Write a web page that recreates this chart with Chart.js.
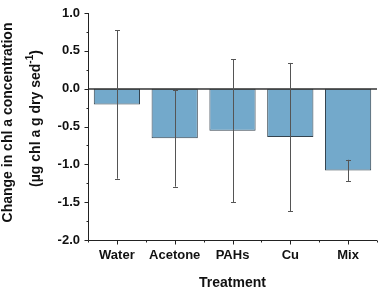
<!DOCTYPE html>
<html>
<head>
<meta charset="utf-8">
<script src="https://cdn.jsdelivr.net/npm/chart.js@4"></script>
<style>
html,body{margin:0;padding:0;background:#fff;}
#wrap{width:379px;height:289px;position:relative;}
</style>
</head>
<body>
<div id="wrap"><canvas id="c" width="379" height="289"></canvas></div>
<script>
const categories = ["Water", "Acetone", "PAHs", "Cu", "Mix"];
const means = [-0.21, -0.655, -0.555, -0.64, -1.08];
const errors = [0.98, 0.64, 0.945, 0.98, 0.14];
const yTicks = [1.0, 0.5, 0.0, -0.5, -1.0, -1.5, -2.0];
const xTitle = "Treatment";
const yTitleLine1 = "Change in chl a concentration";
const yTitleLine2 = "(µg chl a g dry sed";
const yTitleSup = "-1";
const yTitleEnd = ")";

const FONT = "'Liberation Sans', Arial, sans-serif";
const AXIS = "#222";

const decor = {
  id: 'decor',
  afterDatasetsDraw(chart) {
    const ctx = chart.ctx;
    const x = chart.scales.x, y = chart.scales.y;
    const ca = chart.chartArea;
    ctx.save();
    ctx.strokeStyle = '#333';
    ctx.lineWidth = 1.5;
    const y0 = Math.round(y.getPixelForValue(0));
    ctx.beginPath(); ctx.moveTo(ca.left, y0); ctx.lineTo(ca.right, y0); ctx.stroke();
    ctx.strokeStyle = '#555';
    ctx.lineWidth = 1;
    const meta = chart.getDatasetMeta(0);
    meta.data.forEach((bar, i) => {
      const cx = Math.round(bar.x) + 0.5;
      const yt = y.getPixelForValue(means[i] + errors[i]);
      const yb = y.getPixelForValue(means[i] - errors[i]);
      ctx.beginPath();
      ctx.moveTo(cx, yt); ctx.lineTo(cx, yb);
      ctx.moveTo(cx - 2.5, Math.round(yt) + 0.5); ctx.lineTo(cx + 2.5, Math.round(yt) + 0.5);
      ctx.moveTo(cx - 2.5, Math.round(yb) + 0.5); ctx.lineTo(cx + 2.5, Math.round(yb) + 0.5);
      ctx.stroke();
    });
    ctx.strokeStyle = AXIS;
    ctx.lineWidth = 1;
    const lx = Math.round(ca.left) + 0.5;
    const by = Math.round(ca.bottom) + 0.5;
    ctx.beginPath();
    ctx.moveTo(lx, ca.top); ctx.lineTo(lx, by);
    ctx.moveTo(lx, by); ctx.lineTo(ca.right, by);
    for (let v = -2.0; v <= 1.0001; v += 0.25) {
      const py = Math.round(y.getPixelForValue(v)) + 0.5;
      const major = Math.abs(v * 2 - Math.round(v * 2)) < 1e-6;
      ctx.moveTo(lx, py); ctx.lineTo(lx - (major ? 4 : 2), py);
    }
    const n = categories.length;
    for (let i = 0; i < n; i++) {
      const px = Math.round(x.getPixelForValue(i)) + 0.5;
      ctx.moveTo(px, by); ctx.lineTo(px, by + 4);
    }
    for (let i = 0; i <= n; i++) {
      const px = Math.round(x.getPixelForValue(i - 0.5)) + 0.5;
      ctx.moveTo(px, by); ctx.lineTo(px, by + 2);
    }
    ctx.stroke();
    ctx.fillStyle = '#111';
    const cy = (ca.top + ca.bottom) / 2;
    ctx.translate(0, cy);
    ctx.rotate(-Math.PI / 2);
    ctx.textBaseline = 'middle';
    ctx.textAlign = 'left';
    const fMain = "bold 14px " + FONT, fSup = "bold 10px " + FONT;
    ctx.font = fMain;
    const w1 = ctx.measureText(yTitleLine1).width;
    ctx.fillText(yTitleLine1, -w1 / 2 + 4, 8);
    ctx.font = fMain; const a = ctx.measureText(yTitleLine2).width;
    ctx.font = fSup; const b = ctx.measureText(yTitleSup).width;
    ctx.font = fMain; const c = ctx.measureText(yTitleEnd).width;
    let sx = -(a + b + c) / 2 + 8;
    const ly = 36;
    ctx.font = fMain; ctx.fillText(yTitleLine2, sx, ly); sx += a;
    ctx.font = fSup; ctx.fillText(yTitleSup, sx, ly - 6); sx += b;
    ctx.font = fMain; ctx.fillText(yTitleEnd, sx, ly);
    ctx.restore();
  }
};

new Chart(document.getElementById('c'), {
  type: 'bar',
  data: {
    labels: categories,
    datasets: [{
      data: means,
      backgroundColor: '#73a9cb',
      borderColor: '#34434e',
      borderWidth: 1,
      borderSkipped: false,
      barPercentage: 0.8,
      categoryPercentage: 1.0
    }]
  },
  options: {
    responsive: false,
    animation: false,
    devicePixelRatio: 1,
    layout: { padding: { top: 13, right: 2, left: 0, bottom: 0 } },
    plugins: { legend: { display: false }, tooltip: { enabled: false } },
    scales: {
      x: {
        border: { display: false },
        grid: { display: false, drawTicks: false },
        ticks: { color: '#111', font: { family: FONT, size: 13, weight: 'bold' }, padding: 8, maxRotation: 0 },
        title: { display: true, text: xTitle, color: '#111', font: { family: FONT, size: 14, weight: 'bold' }, padding: { top: 13, bottom: -3 } },
        afterFit(s) { s.height = 49; s.paddingLeft = 0; s.paddingRight = 0; }
      },
      y: {
        min: -2.0, max: 1.0,
        border: { display: false },
        grid: { display: false, drawTicks: false },
        afterBuildTicks(s) { s.ticks = yTicks.map(v => ({ value: v })); },
        ticks: { color: '#111', font: { family: FONT, size: 13, weight: 'bold' }, padding: 8,
          callback: (v) => Number(v).toFixed(1) },
        afterFit(s) { s.width = 88; s.paddingTop = 0; s.paddingBottom = 0; }
      }
    }
  },
  plugins: [decor]
});
</script>
</body>
</html>
